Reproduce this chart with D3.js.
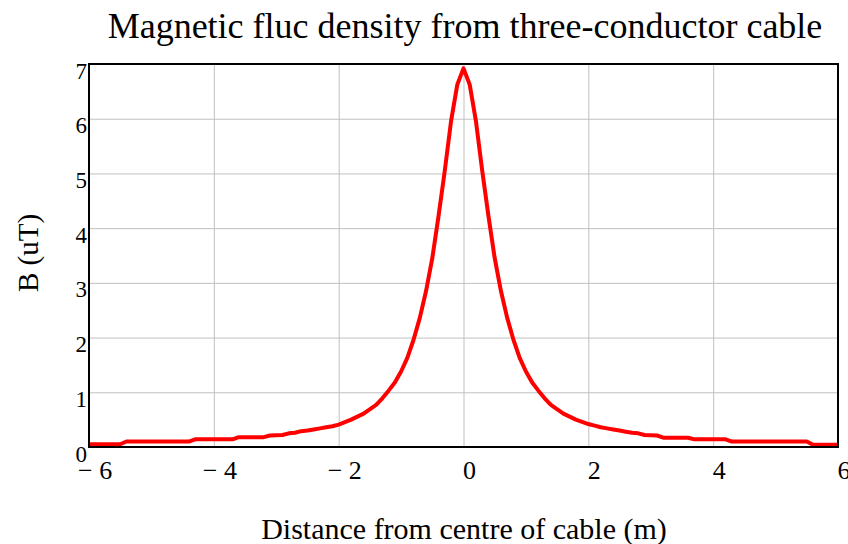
<!DOCTYPE html>
<html>
<head>
<meta charset="utf-8">
<script src="https://cdn.jsdelivr.net/npm/d3@7"></script>
<style>
  body { margin: 0; background: #fff; }
  text { font-family: "Liberation Serif", "Times New Roman", serif; fill: #000; }
</style>
</head>
<body>
<div id="chart"></div>
<script>
    // Data
    const distance = [
        -6.0, -5.5, -5.4, -4.4, -4.3, -3.7, -3.6, -3.2, -3.1, -2.9,
        -2.8, -2.7, -2.6, -2.5, -2.4, -2.3, -2.2, -2.1, -2.0, -1.8,
        -1.6, -1.4, -1.3, -1.2, -1.1, -1.0, -0.9, -0.8, -0.7, -0.6,
        -0.5, -0.4, -0.3, -0.2, -0.1, 0.0,
        0.1, 0.2, 0.3, 0.4, 0.5, 0.6, 0.7, 0.8, 0.9, 1.0,
        1.1, 1.2, 1.3, 1.4, 1.6, 1.8, 2.0, 2.1, 2.2, 2.3,
        2.4, 2.5, 2.6, 2.7, 2.8, 2.9, 3.1, 3.2, 3.6, 3.7,
        4.2, 4.3, 5.5, 5.6, 6.0
    ];
    const fluxDensity = [
        0.05, 0.05, 0.10, 0.10, 0.14, 0.14, 0.18, 0.18, 0.21, 0.22,
        0.25, 0.26, 0.29, 0.30, 0.32, 0.34, 0.36, 0.38, 0.41, 0.50,
        0.61, 0.77, 0.89, 1.03, 1.18, 1.38, 1.63, 1.96, 2.36, 2.85,
        3.45, 4.22, 5.05, 5.95, 6.62, 6.92,
        6.62, 5.95, 5.05, 4.22, 3.45, 2.85, 2.36, 1.96, 1.63, 1.38,
        1.18, 1.03, 0.89, 0.77, 0.61, 0.50, 0.42, 0.39, 0.36, 0.34,
        0.32, 0.30, 0.28, 0.26, 0.25, 0.22, 0.21, 0.17, 0.17, 0.14,
        0.14, 0.10, 0.10, 0.04, 0.04
    ];
    const xTicks = [-6, -4, -2, 0, 2, 4, 6];
    const yTicks = [0, 1, 2, 3, 4, 5, 6, 7];

    const width = 848;
    const height = 544;
    const margin = {top: 64, right: 10, bottom: 97, left: 89};
    const plotW = width - margin.left - margin.right;
    const plotH = height - margin.top - margin.bottom;

    const svg = d3.select("#chart")
        .append("svg")
        .attr("width", width)
        .attr("height", height);

    const x = d3.scaleLinear().domain([-6, 6]).range([0, plotW]);
    const y = d3.scaleLinear().domain([0, 7]).range([plotH, 0]);

    const g = svg.append("g")
        .attr("transform", `translate(${margin.left},${margin.top})`);

    // grid
    g.append("g")
        .call(d3.axisBottom(x).tickValues(xTicks).tickSize(-plotH).tickFormat(""))
        .attr("transform", `translate(0,${plotH})`)
        .call(a => a.select(".domain").remove())
        .selectAll("line").attr("stroke", "#c0c0c0").attr("stroke-width", 1);

    g.append("g")
        .call(d3.axisLeft(y).tickValues(yTicks).tickSize(-plotW).tickFormat(""))
        .call(a => a.select(".domain").remove())
        .selectAll("line").attr("stroke", "#c0c0c0").attr("stroke-width", 1);

    // curve
    const points = distance.map((d, i) => [d, fluxDensity[i]]);
    g.append("path")
        .datum(points)
        .attr("fill", "none")
        .attr("stroke", "#ff0000")
        .attr("stroke-width", 4)
        .attr("stroke-linejoin", "round")
        .attr("d", d3.line().x(d => x(d[0])).y(d => y(d[1])));

    // frame
    g.append("rect")
        .attr("width", plotW)
        .attr("height", plotH)
        .attr("fill", "none")
        .attr("stroke", "#000")
        .attr("stroke-width", 2);

    // tick labels (minus sign set apart, as in the original)
    const fmt = v => v < 0 ? "\u2212 " + Math.abs(v) : String(v);

    const xAxis = g.append("g")
        .attr("transform", `translate(0,${plotH})`)
        .call(d3.axisBottom(x).tickValues(xTicks).tickSize(0).tickFormat(fmt));
    xAxis.select(".domain").remove();
    xAxis.selectAll("text")
        .attr("text-anchor", "start")
        .attr("x", d => d < 0 ? -11.5 : -1)
        .attr("y", 32)
        .attr("dy", null)
        .style("font-size", "26px")
        .style("font-family", "Liberation Serif, serif");

    const yAxis = g.append("g")
        .call(d3.axisLeft(y).tickValues(yTicks).tickSize(0).tickFormat(fmt));
    yAxis.select(".domain").remove();
    yAxis.selectAll("text")
        .attr("x", -2)
        .attr("y", 14)
        .attr("dy", null)
        .style("font-size", "23px")
        .style("font-family", "Liberation Serif, serif");

    // titles
    svg.append("text")
        .attr("x", 465)
        .attr("y", 38)
        .attr("text-anchor", "middle")
        .attr("font-size", 36)
        .text("Magnetic fluc density from three-conductor cable");

    svg.append("text")
        .attr("x", 464)
        .attr("y", 539)
        .attr("text-anchor", "middle")
        .attr("font-size", 30)
        .text("Distance from centre of cable (m)");

    svg.append("text")
        .attr("transform", "translate(38,253) rotate(-90)")
        .attr("text-anchor", "middle")
        .attr("font-size", 29)
        .text("B (uT)");
</script>
</body>
</html>
